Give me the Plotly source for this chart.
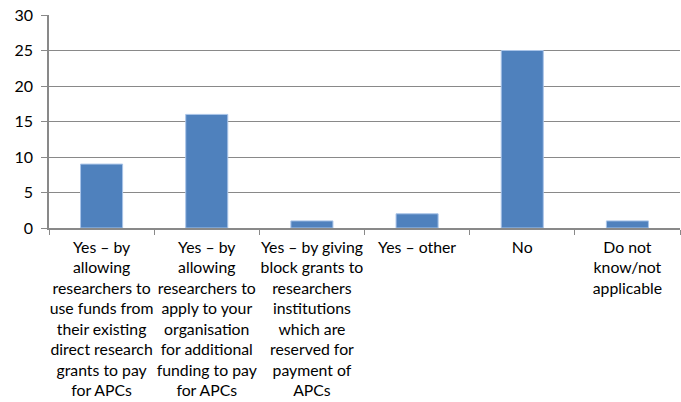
import plotly.graph_objects as go

categories = [
    "Yes – by<br>allowing<br>researchers to<br>use funds from<br>their existing<br>direct research<br>grants to pay<br>for APCs",
    "Yes – by<br>allowing<br>researchers to<br>apply to your<br>organisation<br>for additional<br>funding to pay<br>for APCs",
    "Yes – by giving<br>block grants to<br>researchers<br>institutions<br>which are<br>reserved for<br>payment of<br>APCs",
    "Yes – other",
    "No",
    "Do not<br>know/not<br>applicable",
]
values = [9, 16, 1, 2, 25, 1]
y_ticks = [0, 5, 10, 15, 20, 25, 30]

fig = go.Figure(go.Bar(
    x=categories, y=values,
    marker=dict(color="#4F81BD", line=dict(color="#A9C4E8", width=1)),
    width=0.4,
))
fig.update_layout(
    width=681, height=402,
    margin=dict(l=49, r=1, t=15, b=174),
    paper_bgcolor="white", plot_bgcolor="white",
    showlegend=False,
    font=dict(family="Lato, sans-serif", size=15, color="black"),
)
fig.update_xaxes(
    showline=True, linecolor="#898989", linewidth=1.5,
    ticks="outside", tickson="boundaries", ticklen=5, tickcolor="#898989",
    tickangle=0, tickfont=dict(size=15.8), automargin=False, ticklabelstandoff=4,
)
fig.update_yaxes(
    range=[0, 30], tickvals=y_ticks, showline=True, linecolor="#898989", linewidth=1.5,
    gridcolor="#898989", gridwidth=1.2, ticks="outside", ticklen=6, tickcolor="#898989",
    tickfont=dict(size=16), zeroline=False, automargin=False, ticklabelstandoff=5,
)
fig.write_html("out.html")
